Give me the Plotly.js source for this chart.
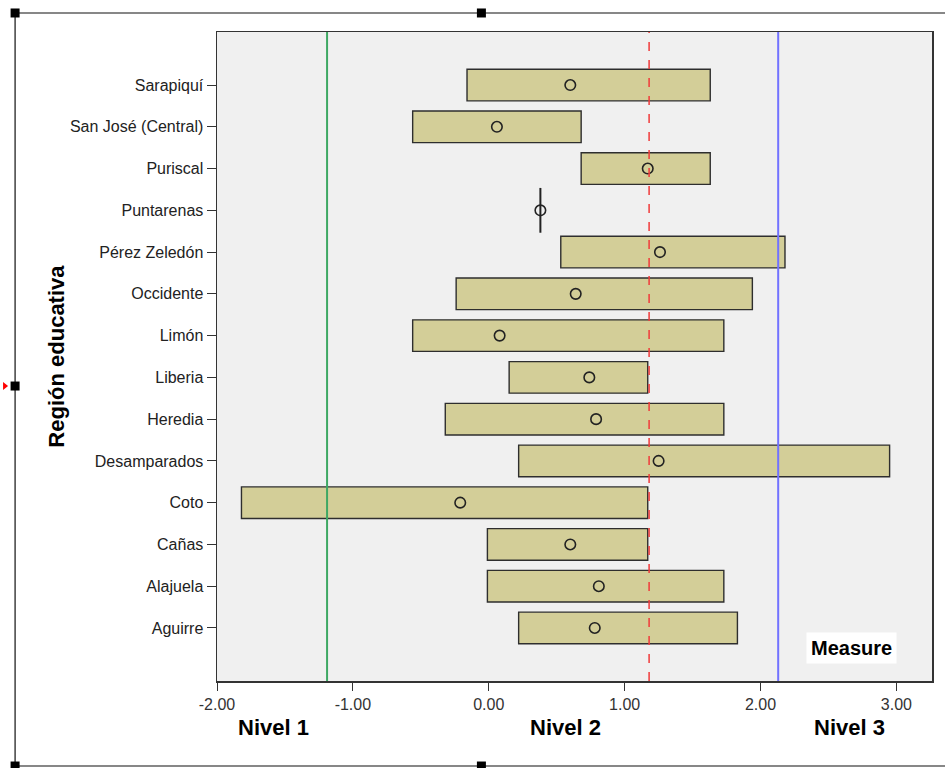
<!DOCTYPE html>
<html><head><meta charset="utf-8">
<script src="https://cdn.plot.ly/plotly-3.0.1.min.js"></script>
<style>html,body{margin:0;padding:0;background:#fff;}#chart{width:945px;height:768px;}</style>
</head><body><div id="chart"></div>
<script>
// Data (bottom to top)
const regions = ["Aguirre","Alajuela","Cañas","Coto","Desamparados","Heredia","Liberia","Limón","Occidente","Pérez Zeledón","Puntarenas","Puriscal","San José (Central)","Sarapiquí"];
const minVals = [0.22, -0.01, -0.01, -1.82, 0.22, -0.32, 0.15, -0.56, -0.24, 0.53, 0.38, 0.68, -0.56, -0.16];
const maxVals = [1.83, 1.73, 1.17, 1.17, 2.95, 1.73, 1.17, 1.73, 1.94, 2.18, 0.38, 1.63, 0.68, 1.63];
const meanVals = [0.78, 0.81, 0.60, -0.21, 1.25, 0.79, 0.74, 0.08, 0.64, 1.26, 0.38, 1.17, 0.06, 0.60];
const cutNivel1 = -1.19;
const cutMedia = 1.18;
const cutNivel3 = 2.13;
const xTicks = [-2, -1, 0, 1, 2, 3];
const xTickText = ["-2.00", "-1.00", "0.00", "1.00", "2.00", "3.00"];

const font = "Liberation Sans, Arial, sans-serif";
const ranged = regions.map((r,i)=>minVals[i]!==maxVals[i]);
const barY = regions.filter((r,i)=>ranged[i]);
const barBase = minVals.filter((v,i)=>ranged[i]);
const barLen = maxVals.map((v,i)=>v-minVals[i]).filter((v,i)=>ranged[i]);
const lineY = regions.filter((r,i)=>!ranged[i]);
const lineX = minVals.filter((v,i)=>!ranged[i]);

const traces = [
  {type:'bar', orientation:'h', y:barY, x:barLen, base:barBase, width:0.756,
   marker:{color:'#d3ce98', line:{color:'#2e2e2e', width:1.4}}, hoverinfo:'skip'},
  {type:'scatter', mode:'markers', y:lineY, x:lineX,
   marker:{symbol:'line-ns-open', size:32, color:'#222', line:{color:'#222', width:2}}, hoverinfo:'skip'},
  {type:'scatter', mode:'markers', y:regions, x:meanVals,
   marker:{symbol:'circle-open', size:10.5, color:'#222', line:{color:'#222', width:1.6}}, hoverinfo:'skip'}
];

function handle(x, y){
  return {type:'rect', xref:'paper', yref:'paper', xsizemode:'pixel', ysizemode:'pixel',
    xanchor:x, yanchor:y, x0:-4.5, x1:4.5, y0:-4.5, y1:4.5, fillcolor:'#000', line:{width:0}};
}
const L = -0.2824, R = 1.12, T = 1.0293, B = -0.131, MX = 0.3698, MY = 0.4545;

const layout = {
  width:945, height:768,
  margin:{l:217, r:13, t:32, b:87},
  paper_bgcolor:'#ffffff', plot_bgcolor:'#f0f0f0',
  showlegend:false, barmode:'overlay',
  font:{family:font, size:16, color:'#222'},
  xaxis:{range:[-2, 3.262], tickvals:xTicks, ticktext:xTickText, ticks:'outside', ticklen:8,
    tickcolor:'#333', tickfont:{size:16, color:'#333'}, showgrid:false, zeroline:false,
    showline:true, linecolor:'#333', linewidth:1.5, mirror:true, fixedrange:true},
  yaxis:{type:'category', categoryorder:'array', categoryarray:regions, range:[-1.27, 14.27],
    ticks:'outside', ticklen:9, tickcolor:'#333', tickfont:{size:16, color:'#222'},
    showgrid:false, zeroline:false, showline:true, linecolor:'#333', linewidth:1.5, mirror:true, fixedrange:true},
  shapes:[
    {type:'line', xref:'x', yref:'paper', x0:cutNivel1, x1:cutNivel1, y0:0, y1:1, line:{color:'#3fa863', width:2}},
    {type:'line', xref:'x', yref:'paper', x0:cutMedia, x1:cutMedia, y0:0, y1:1, line:{color:'#f03a3a', width:1.5, dash:'dash'}},
    {type:'line', xref:'x', yref:'paper', x0:cutNivel3, x1:cutNivel3, y0:0, y1:1, line:{color:'#7272ff', width:2}},
    {type:'line', xref:'paper', yref:'paper', x0:L, x1:R, y0:T, y1:T, line:{color:'#111', width:1.2}},
    {type:'line', xref:'paper', yref:'paper', x0:L, x1:R, y0:B, y1:B, line:{color:'#111', width:1.2}},
    {type:'line', xref:'paper', yref:'paper', x0:L, x1:L, y0:B, y1:T, line:{color:'#111', width:1.2}},
    handle(L, T), handle(MX, T), handle(L, MY), handle(L, B), handle(MX, B),
    {type:'path', xref:'paper', yref:'paper', xsizemode:'pixel', ysizemode:'pixel', xanchor:L, yanchor:MY,
      path:'M -12,-4 L -7,0 L -12,4 Z', fillcolor:'#ff0000', line:{width:0}}
  ],
  annotations:[
    {text:'<b>Región educativa</b>', xref:'paper', yref:'paper', x:-0.225, y:0.5, xanchor:'center', yanchor:'middle', textangle:-90,
      showarrow:false, font:{size:22, color:'#000', family:font}},
    {text:'<b>Nivel 1</b>', xref:'paper', yref:'paper', x:0.0793, y:-0.0724, xanchor:'center', yanchor:'middle', showarrow:false, font:{size:22, color:'#000', family:font}},
    {text:'<b>Nivel 2</b>', xref:'paper', yref:'paper', x:0.488, y:-0.0724, xanchor:'center', yanchor:'middle', showarrow:false, font:{size:22, color:'#000', family:font}},
    {text:'<b>Nivel 3</b>', xref:'paper', yref:'paper', x:0.885, y:-0.0724, xanchor:'center', yanchor:'middle', showarrow:false, font:{size:22, color:'#000', family:font}},
    {text:'<b>Measure</b>', xref:'paper', yref:'paper', x:0.888, y:0.0508, xanchor:'center', yanchor:'middle', showarrow:false, bgcolor:'#ffffff',
      borderpad:4, font:{size:20, color:'#000', family:font}}
  ]
};
Plotly.newPlot('chart', traces, layout, {staticPlot:true, displayModeBar:false});
</script></body></html>
